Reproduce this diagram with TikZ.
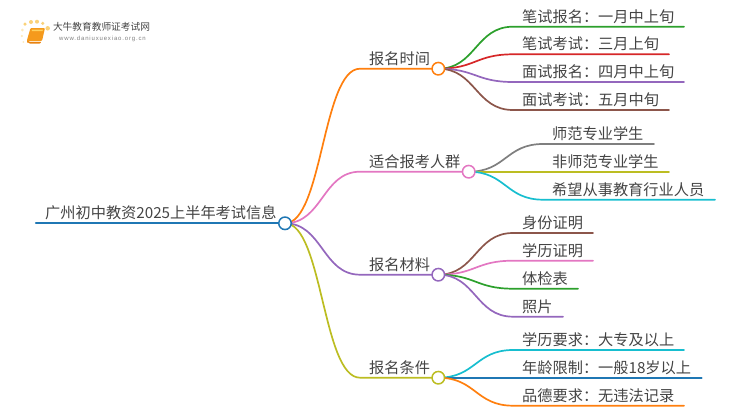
\documentclass[tikz,border=0pt]{standalone}
\usepackage{fontspec}
\setmainfont{Noto Sans CJK SC}
\newfontfamily\urlfont[LetterSpace=14]{Liberation Sans}
\usetikzlibrary{backgrounds,calc}
\definecolor{cOrange}{HTML}{FF7F0E}
\definecolor{cBlue}{HTML}{1F77B4}
\definecolor{cPink}{HTML}{E377C2}
\definecolor{cPurple}{HTML}{9467BD}
\definecolor{cOlive}{HTML}{BCBD22}
\definecolor{cGreen}{HTML}{2CA02C}
\definecolor{cRed}{HTML}{D62728}
\definecolor{cBrown}{HTML}{8C564B}
\definecolor{cGrey}{HTML}{7F7F7F}
\definecolor{cCyan}{HTML}{17BECF}
\definecolor{cText}{HTML}{444444}
\definecolor{cDot}{HTML}{FAD27A}
\definecolor{cDotPale}{HTML}{FCE9BE}
\definecolor{cBook}{HTML}{F59A1C}
\definecolor{cBookDark}{HTML}{E8820F}
\definecolor{cBookLight}{HTML}{FFD25E}
\tikzset{
  x=1pt,y=-1pt,
  hub/.style={circle,draw=#1,line width=1.5pt,fill=white,minimum size=12.5pt,inner sep=0pt},
  label/.style={text=cText,font=\fontsize{15.2}{15.2}\selectfont,inner sep=0pt,anchor=west},
  link/.style={draw=#1,line width=1.7pt,line cap=round},
  dot/.style={circle,fill=#1,inner sep=0pt},
}
% \branch{hub}{name}{color}{text-left x}{line y}{line end x}{text}
\newcommand\branch[7]{%
  \node[label] (#2) at (#4,#5-10.4) {#7};
  \coordinate (#2a) at (#4-9,#5);
  \coordinate (#2b) at (#6,#5);
  \begin{scope}[on background layer]
    \path let \p1=(#1.center), \p2=(#2a), \n1={(\x1+\x2)/2} in
      coordinate (#2c) at (\n1,\y1) coordinate (#2d) at (\n1,\y2);
    \draw[link=#3] (#1.center) .. controls (#2c) and (#2d) .. (#2a) -- (#2b);
  \end{scope}
}
\begin{document}
\begin{tikzpicture}
\useasboundingbox (0,0) rectangle (750,410);

% logo
\node[dot=cDot,minimum size=3.5pt] (d1) at (25,24) {};
\node[dot=cDot,minimum size=4pt] (d2) at (31,22) {};
\node[dot=cDot,minimum size=4pt] (d3) at (37,21.7) {};
\node[dot=cDot,minimum size=3.5pt] (d4) at (42.7,23.3) {};
\node[dot=cDot,minimum size=4.5pt] (d5) at (47.7,28.3) {};
\node[dot=cDotPale,minimum size=3pt] (d6) at (22.3,30) {};
\node[dot=cDotPale,minimum size=2.5pt] (d7) at (21.9,36) {};
\node[dot=cDotPale,minimum size=2pt] (d8) at (23.3,42) {};
\fill[cBook,rounded corners=1pt] (30.5,28) -- (45,28) -- (42,41) -- (29,41) -- (27,43.5) -- (27,40) -- cycle;
\fill[cBookDark,rounded corners=0.8pt] (27,40.5) -- (29,43.5) -- (40.5,43.5) -- (41.2,41.8) -- (29,41.8) -- cycle;
\fill[cBookLight] (32,29.5) -- (43,29.5) -- (42.6,31) -- (31.7,31) -- cycle;
\node[inner sep=0pt,text=cText,font=\fontsize{9.7}{10}\selectfont] (logot) at (101.5,27) {大牛教育教师证考试网};
\node[inner sep=0pt,text=cGrey,font=\urlfont\fontsize{6}{7}\selectfont] (logou) at (102.5,39) {www.daniuxuexiao.org.cn};

% root
\node[hub=cBlue] (root) at (285,223.3) {};
\node[label] (roott) at (45,212.9) {广州初中教资2025上半年考试信息};
\coordinate (rootl) at (36,223.3);
\begin{scope}[on background layer]
  \draw[link=cBlue,line width=2.2pt] (rootl) -- (root.center);
\end{scope}

% level 1
\node[hub=cOrange] (h1) at (438.3,68.7) {};
\node[hub=cPink] (h2) at (468.7,171.7) {};
\node[hub=cPurple] (h3) at (438.3,274.7) {};
\node[hub=cOlive] (h4) at (438.3,377.7) {};
\branch{root}{a1}{cOrange}{369}{68.7}{438.3}{报名时间}
\branch{root}{a2}{cPink}{369}{171.7}{468.7}{适合报考人群}
\branch{root}{a3}{cPurple}{369}{274.7}{438.3}{报名材料}
\branch{root}{a4}{cOlive}{369}{377.7}{438.3}{报名条件}

% group 1
\branch{h1}{b1}{cGreen}{522}{26.7}{684}{笔试报名：一月中上旬}
\branch{h1}{b2}{cRed}{522}{54.3}{669}{笔试考试：三月上旬}
\branch{h1}{b3}{cPurple}{522}{82}{684}{面试报名：四月中上旬}
\branch{h1}{b4}{cBrown}{522}{110}{669}{面试考试：五月中旬}
% group 2
\branch{h2}{c1}{cGrey}{552}{144}{654}{师范专业学生}
\branch{h2}{c2}{cOlive}{552}{171.7}{669}{非师范专业学生}
\branch{h2}{c3}{cCyan}{552}{199.7}{715}{希望从事教育行业人员}
% group 3
\branch{h3}{e1}{cBrown}{522}{233}{593}{身份证明}
\branch{h3}{e2}{cPink}{522}{260.7}{593}{学历证明}
\branch{h3}{e3}{cGreen}{522}{288.7}{578}{体检表}
\branch{h3}{e4}{cPurple}{522}{316.7}{563}{照片}
% group 4
\branch{h4}{f1}{cCyan}{522}{350}{684}{学历要求：大专及以上}
\branch{h4}{f2}{cBlue}{522}{377.7}{701.7}{年龄限制：一般18岁以上}
\branch{h4}{f3}{cOrange}{522}{405.7}{684}{品德要求：无违法记录}
\end{tikzpicture}
\end{document}
